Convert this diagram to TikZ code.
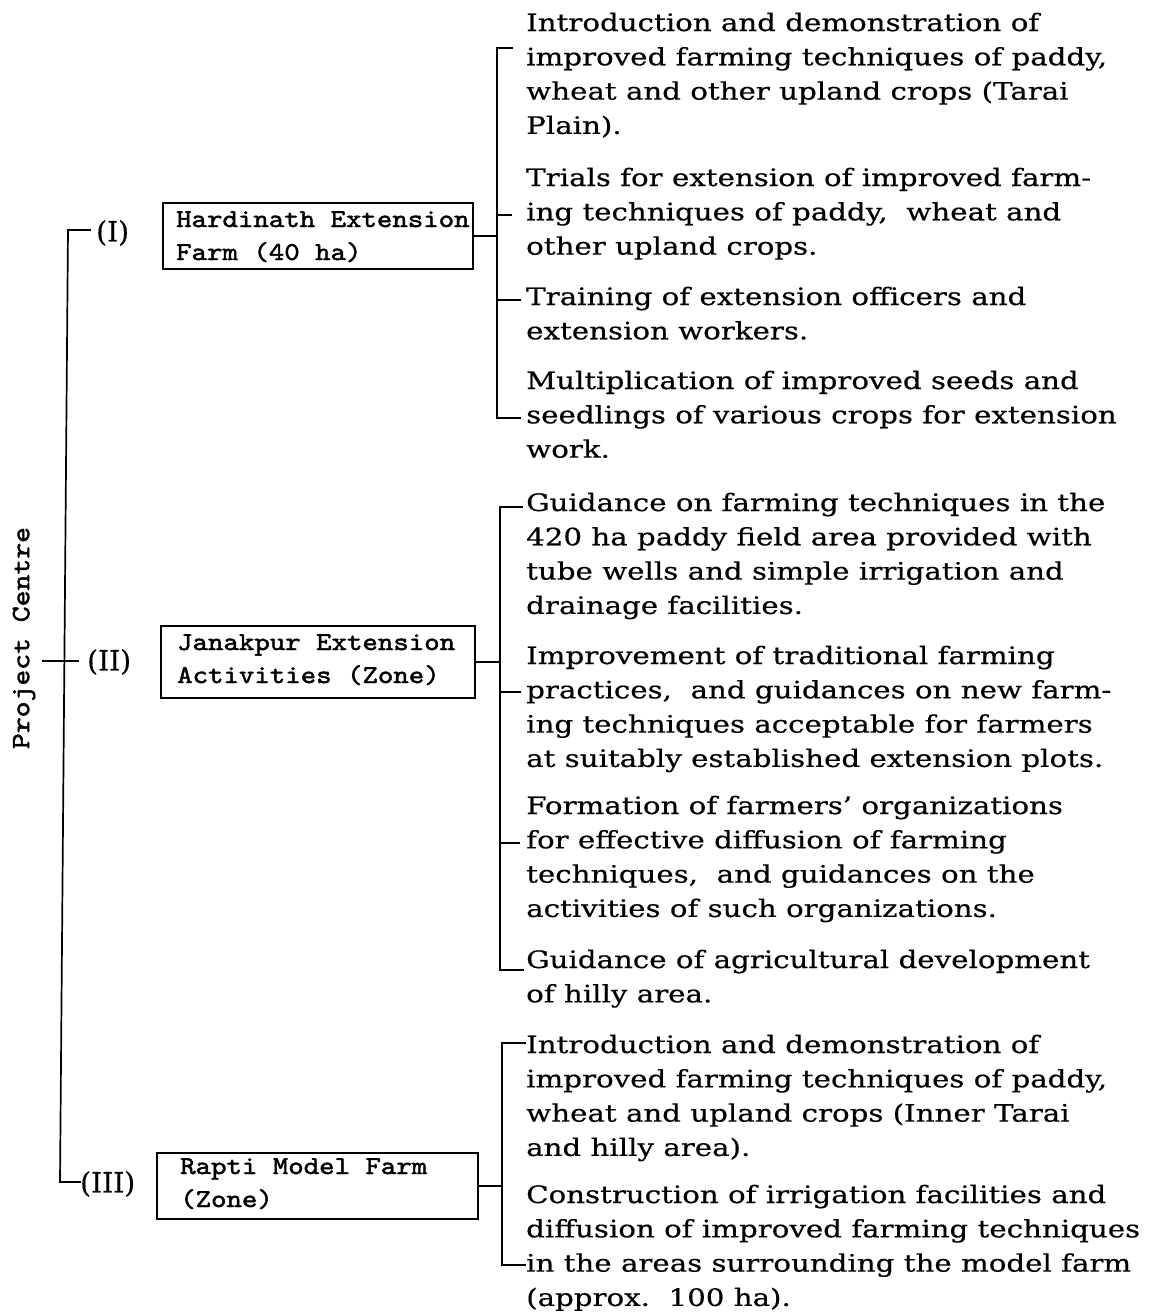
\documentclass[tikz,border=0pt]{standalone}
\usepackage{fontspec}
\setmainfont{DejaVu Serif}[FakeStretch=1.22, FakeBold=0.5]
\newfontfamily\labfam{DejaVu Serif}[FakeBold=0.5]
\newfontfamily\monofam{lmmono10-regular}[Extension=.otf, FakeStretch=1.14, FakeBold=1.8]
\begin{document}
\begin{tikzpicture}[x=1pt,y=-1pt,
  ln/.style={line width=1.7pt, line cap=rect},
  itemtxt/.style={anchor=base west, inner sep=0pt, font=\fontsize{24}{34.3}\selectfont},
  boxnode/.style={draw, line width=1.6pt, inner sep=0pt, anchor=north west},
  boxtxt/.style={anchor=base west, inner sep=0pt, font=\monofam\fontsize{25.8}{33}\selectfont},
  lab/.style={inner sep=0pt, anchor=west, font=\labfam\fontsize{28}{34}\selectfont}]
\useasboundingbox (0,0) rectangle (1151,1315);

% ---- left spine ----
\node[inner sep=0pt, rotate=90, anchor=center, font=\monofam\fontsize{26.5}{33}\selectfont] (pc) at (24,638) {Project Centre};
\coordinate (L1) at (68,230);
\coordinate (L3) at (60,1182);
\coordinate (tk1) at (90,230);
\coordinate (tk2a) at (43,661);
\coordinate (tk2b) at (78,661);
\coordinate (tk3) at (80,1182);
\draw[ln] (tk1) -- (L1) -- (L3) -- (tk3);
\draw[ln] (tk2a) -- (tk2b);
\node[lab] (lab1) at (96,233) {(I)};
\node[lab] (lab2) at (87,662) {(II)};
\node[lab] (lab3) at (80,1184) {(III)};

% ---- boxes ----
\node[boxnode, minimum width=310pt, minimum height=66pt] (b1) at (162,202) {};
\node[boxtxt] (b1t) at (176,227) {\begin{tabular}[t]{@{}l@{}}Hardinath Extension\\Farm (40 ha)\end{tabular}};
\node[boxnode, minimum width=314pt, minimum height=72pt] (b2) at (160,625) {};
\node[boxtxt] (b2t) at (177,650) {\begin{tabular}[t]{@{}l@{}}Janakpur Extension\\Activities (Zone)\end{tabular}};
\node[boxnode, minimum width=321pt, minimum height=66pt] (b3) at (156,1152) {};
\node[boxtxt] (b3t) at (180,1174) {\begin{tabular}[t]{@{}l@{}}Rapti Model Farm\\(Zone)\end{tabular}};

% ---- bracket 1 ----
\coordinate (b1top) at (497,48);
\coordinate (b1bot) at (497,418);
\coordinate (b1tt) at (512,48);
\coordinate (b1bt) at (520,418);
\coordinate (b1m1) at (497,215);
\coordinate (b1m1e) at (511,215);
\coordinate (b1m2) at (497,300);
\coordinate (b1m2e) at (520,300);
\draw[ln] (b1tt) -- (b1top) -- (b1bot) -- (b1bt);
\draw[ln] (b1m1) -- (b1m1e);
\draw[ln] (b1m2) -- (b1m2e);
\draw[ln] (b1.east) -- (b1.east -| b1top);

% ---- bracket 2 ----
\coordinate (b2top) at (500,507);
\coordinate (b2bot) at (500,970);
\coordinate (b2tt) at (522,507);
\coordinate (b2bt) at (523,970);
\coordinate (b2m1) at (500,692);
\coordinate (b2m1e) at (520,692);
\coordinate (b2m2) at (500,843);
\coordinate (b2m2e) at (519,843);
\draw[ln] (b2tt) -- (b2top) -- (b2bot) -- (b2bt);
\draw[ln] (b2m1) -- (b2m1e);
\draw[ln] (b2m2) -- (b2m2e);
\draw[ln] (b2.east) -- (b2.east -| b2top);

% ---- bracket 3 ----
\coordinate (b3top) at (502,1043);
\coordinate (b3bot) at (502,1265);
\coordinate (b3tt) at (525,1043);
\coordinate (b3bt) at (525,1265);
\draw[ln] (b3tt) -- (b3top) -- (b3bot) -- (b3bt);
\draw[ln] (b3.east) -- (b3.east -| b3top);

% ---- item texts ----
\node[itemtxt] (t11) at (526,31) {\begin{tabular}[t]{@{}l@{}}Introduction and demonstration of\\improved farming techniques of paddy,\\wheat and other upland crops (Tarai\\Plain).\end{tabular}};
\node[itemtxt] (t12) at (526,186) {\begin{tabular}[t]{@{}l@{}}Trials for extension of improved farm-\\ing techniques of paddy,\ \ wheat and\\other upland crops.\end{tabular}};
\node[itemtxt] (t13) at (526,305) {\begin{tabular}[t]{@{}l@{}}Training of extension officers and\\extension workers.\end{tabular}};
\node[itemtxt] (t14) at (526,389) {\begin{tabular}[t]{@{}l@{}}Multiplication of improved seeds and\\seedlings of various crops for extension\\work.\end{tabular}};

\node[itemtxt] (t21) at (526,511) {\begin{tabular}[t]{@{}l@{}}Guidance on farming techniques in the\\420 ha paddy field area provided with\\tube wells and simple irrigation and\\drainage facilities.\end{tabular}};
\node[itemtxt] (t22) at (526,664) {\begin{tabular}[t]{@{}l@{}}Improvement of traditional farming\\practices,\ \ and guidances on new farm-\\ing techniques acceptable for farmers\\at suitably established extension plots.\end{tabular}};
\node[itemtxt] (t23) at (526,814) {\begin{tabular}[t]{@{}l@{}}Formation of farmers' organizations\\for effective diffusion of farming\\techniques,\ \ and guidances on the\\activities of such organizations.\end{tabular}};
\node[itemtxt] (t24) at (526,968) {\begin{tabular}[t]{@{}l@{}}Guidance of agricultural development\\of hilly area.\end{tabular}};

\node[itemtxt] (t31) at (526,1053) {\begin{tabular}[t]{@{}l@{}}Introduction and demonstration of\\improved farming techniques of paddy,\\wheat and upland crops (Inner Tarai\\and hilly area).\end{tabular}};
\node[itemtxt] (t32) at (526,1203) {\begin{tabular}[t]{@{}l@{}}Construction of irrigation facilities and\\diffusion of improved farming techniques\\in the areas surrounding the model farm\\(approx.\ \ 100 ha).\end{tabular}};
\end{tikzpicture}
\end{document}
